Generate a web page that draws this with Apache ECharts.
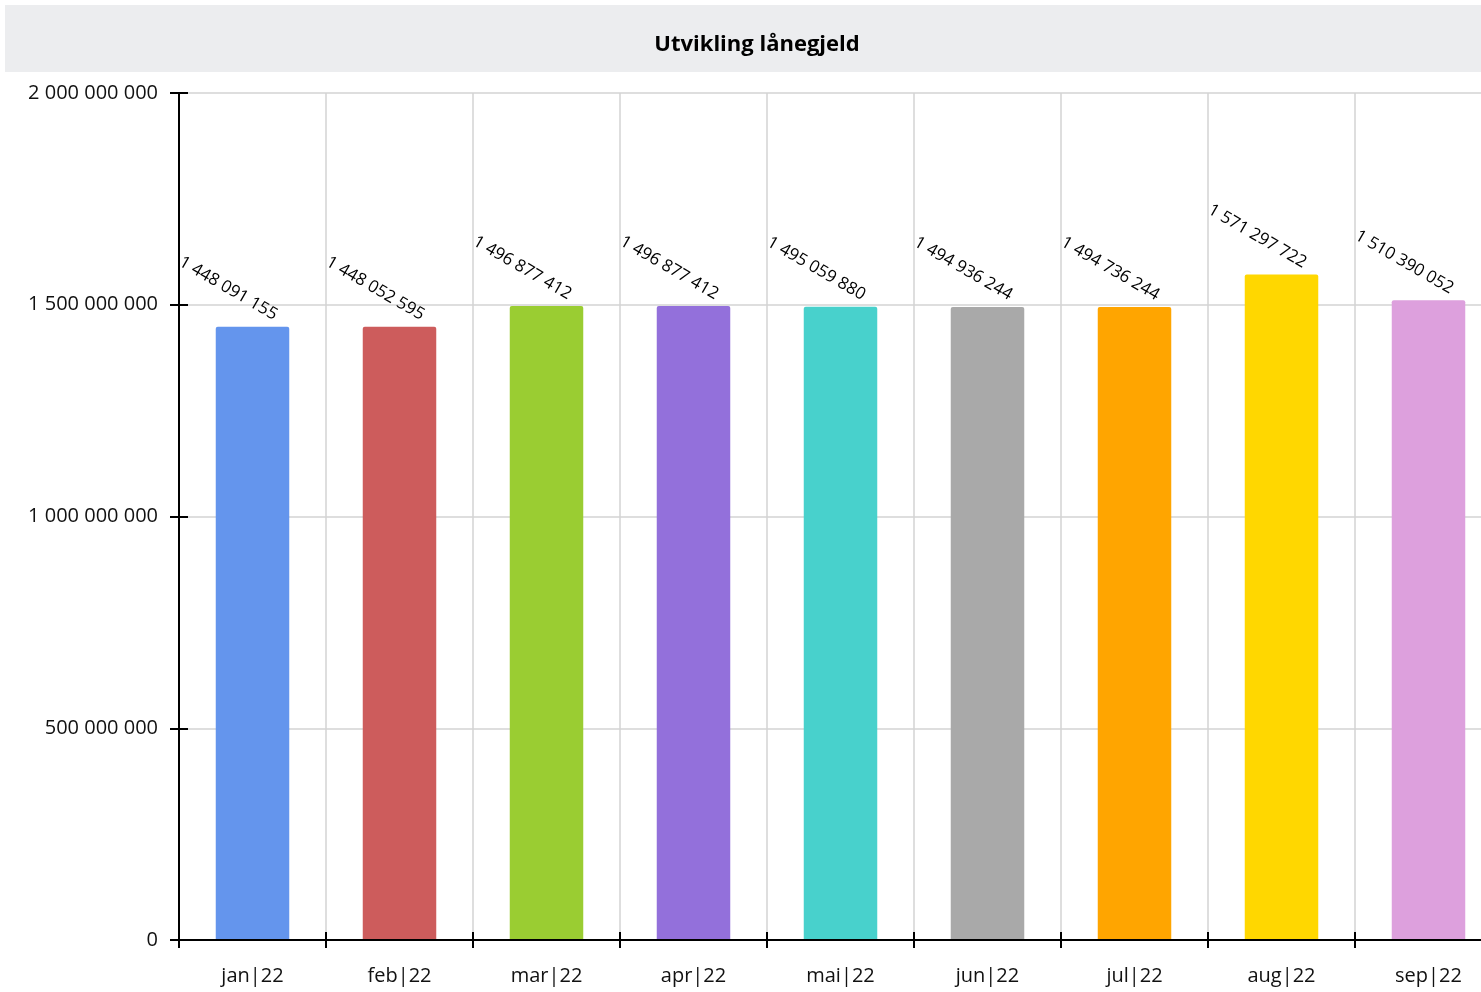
<!DOCTYPE html>
<html>
<head>
<meta charset="utf-8">
<title>Utvikling lånegjeld</title>
<script src="https://cdn.jsdelivr.net/npm/echarts@6/dist/echarts.min.js"></script>
<style>
  html, body { margin: 0; padding: 0; background: #fff; overflow: hidden; }
  #chart { width: 1510px; height: 992px; }
</style>
</head>
<body>
<div id="chart"></div>
<script>
// Monthly loan balance
const months = ['jan|22', 'feb|22', 'mar|22', 'apr|22', 'mai|22', 'jun|22', 'jul|22', 'aug|22', 'sep|22'];
const balances = [1448091155, 1448052595, 1496877412, 1496877412, 1495059880, 1494936244, 1494736244, 1571297722, 1510390052];
const barColors = ['#6495ED', '#CD5C5C', '#9ACD32', '#9370DB', '#48D1CC', '#A9A9A9', '#FFA500', '#FFD700', '#DDA0DD'];
const yTicks = { min: 0, max: 2000000000, step: 500000000 };
const titleText = 'Utvikling lånegjeld';

const FONT = '"Open Sans", "Noto Sans", sans-serif';
const spaced = v => String(Math.round(v)).replace(/\B(?=(\d{3})+(?!\d))/g, ' ');

const chart = echarts.init(document.getElementById('chart'), null, { renderer: 'canvas' });

const tickStyle = { color: '#000', width: 2 };
const gridLine = { color: '#d3d3d3', width: 1.5 };

chart.setOption({
  animation: false,
  backgroundColor: '#ffffff',
  graphic: [{
    type: 'rect',
    left: 5, top: 5, z: -1,
    shape: { width: 1500, height: 67 },
    style: { fill: '#ECEDEF' }
  }],
  title: {
    text: titleText,
    left: 752, top: 29, textAlign: 'center',
    textStyle: { fontFamily: FONT, fontSize: 22, fontWeight: 'bold', color: '#000' }
  },
  grid: { left: 179, top: 93, right: 8, bottom: 52, containLabel: false },
  xAxis: [{
    // labels, axis line and outer ticks (drawn above bars)
    type: 'category',
    data: months,
    boundaryGap: true,
    axisLine: { show: true, lineStyle: { color: '#000', width: 2 } },
    axisTick: { show: true, inside: false, length: 8, lineStyle: tickStyle },
    axisLabel: { margin: 26, fontFamily: FONT, fontSize: 20, color: '#111' },
    splitLine: { show: false },
    z: 3
  }, {
    // inner ticks
    type: 'category',
    data: months,
    boundaryGap: true,
    position: 'bottom',
    axisLine: { show: false },
    axisTick: { show: true, inside: true, length: 8, lineStyle: tickStyle },
    axisLabel: { show: false },
    splitLine: { show: false },
    z: 3
  }, {
    // vertical grid lines behind bars
    type: 'category',
    data: months,
    boundaryGap: true,
    position: 'bottom',
    axisLine: { show: false },
    axisTick: { show: false },
    axisLabel: { show: false },
    splitLine: { show: true, lineStyle: gridLine },
    z: 0
  }],
  yAxis: [{
    type: 'value',
    min: yTicks.min, max: yTicks.max, interval: yTicks.step,
    axisLine: { show: true, lineStyle: { color: '#000', width: 2 } },
    axisTick: { show: true, inside: false, length: 9, lineStyle: tickStyle },
    axisLabel: { margin: 21, fontFamily: FONT, fontSize: 20, color: '#111', formatter: spaced, padding: [8, 0, 0, 0] },
    splitLine: { show: false },
    z: 3
  }, {
    type: 'value',
    min: yTicks.min, max: yTicks.max, interval: yTicks.step,
    position: 'left',
    axisLine: { show: false },
    axisTick: { show: true, inside: true, length: 9, lineStyle: tickStyle },
    axisLabel: { show: false },
    splitLine: { show: false },
    z: 3
  }, {
    type: 'value',
    min: yTicks.min, max: yTicks.max, interval: yTicks.step,
    position: 'left',
    axisLine: { show: false },
    axisTick: { show: false },
    axisLabel: { show: false },
    splitLine: { show: true, lineStyle: gridLine },
    z: 0
  }],
  series: [{
    type: 'bar',
    xAxisIndex: 0, yAxisIndex: 0,
    barWidth: '50%',
    z: 2,
    data: balances.map((v, i) => ({ value: v, itemStyle: { color: barColors[i], borderRadius: [2, 2, 0, 0] } })),
    label: {
      show: true,
      position: 'top',
      distance: 4,
      rotate: -30,
      align: 'right',
      verticalAlign: 'bottom',
      offset: [17, -9],
      fontFamily: FONT,
      fontSize: 17,
      color: '#000',
      formatter: p => spaced(p.value)
    }
  }]
});
</script>
</body>
</html>
